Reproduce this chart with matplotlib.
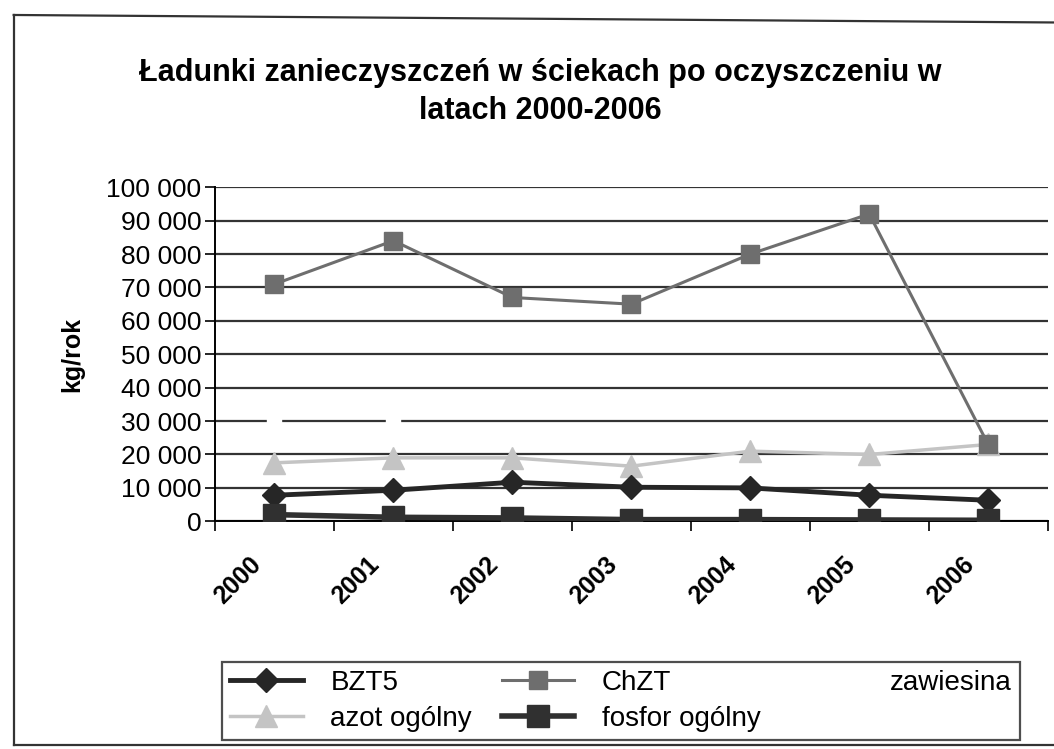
import matplotlib.pyplot as plt
import matplotlib.transforms as mtransforms
import numpy as np
from matplotlib.lines import Line2D

plt.rcParams['font.family'] = ['Liberation Sans', 'DejaVu Sans']

years = ['2000', '2001', '2002', '2003', '2004', '2005', '2006']
bzt5 = [7800, 9300, 11700, 10200, 10000, 7800, 6300]
chzt = [71000, 84000, 67000, 65000, 80000, 92000, 23000]
zawiesina = [30000, 30000, np.nan, np.nan, np.nan, np.nan, np.nan]
azot = [17500, 19000, 19000, 16500, 21000, 20000, 23000]
fosfor = [2000, 1200, 1000, 500, 500, 400, 300]

fig = plt.figure(figsize=(10.54, 7.49), dpi=100)
ax = fig.add_axes([0.204, 0.304, 0.79, 0.446])

x = np.arange(len(years))

# series on top of the grid
ax.plot(x, bzt5, color='#262626', marker='D', markersize=12, lw=3.5,
        label='BZT5', zorder=4)
ax.plot(x, azot, color='#c4c4c4', marker='^', markersize=16, lw=2.5,
        label='azot ogólny', zorder=3)
ax.plot(x, chzt, color='#6e6e6e', marker='s', markersize=13, lw=2.2,
        label='ChZT', zorder=3)
ax.plot(x, fosfor, color='#303030', marker='s', markersize=16, lw=4,
        label='fosfor ogólny', zorder=5)
ax.plot(x, zawiesina, color='white', marker='s', markersize=10, lw=0,
        label='zawiesina', zorder=2)

ax.set_xlim(-0.5, 6.5)
ax.set_ylim(0, 100000)
ax.set_yticks(np.arange(0, 100001, 10000))
ax.set_yticklabels([f'{v:,}'.replace(',', ' ') for v in range(0, 100001, 10000)],
                   fontsize=19)
ax.yaxis.grid(True, color='#333333', lw=1.6, zorder=0)
ax.set_axisbelow(True)

ax.set_xticks(x)
ax.set_xticklabels(years, rotation=45, fontsize=18, fontweight='bold',
                   ha='right', rotation_mode='anchor')
ax.set_xticks(np.arange(-0.5, 7, 1), minor=True)
ax.tick_params(axis='x', which='major', length=0, pad=22)
ax.tick_params(axis='x', which='minor', length=7, width=1.2, direction='out')
ax.tick_params(axis='y', length=7, width=1.2, direction='out', pad=3)

# nudge the rotated year labels a bit to the left
shift = mtransforms.ScaledTranslation(-0.26, 0, fig.dpi_scale_trans)
for lbl in ax.get_xticklabels():
    lbl.set_transform(lbl.get_transform() + shift)

for s in ['top', 'right']:
    ax.spines[s].set_visible(False)
ax.spines['left'].set_linewidth(1.4)
ax.spines['bottom'].set_linewidth(1.4)

ax.set_ylabel('kg/rok', fontsize=18, fontweight='bold', labelpad=16)

fig.text(0.513, 0.877, 'Ładunki zanieczyszczeń w ściekach po oczyszczeniu w\nlatach 2000-2006',
         ha='center', va='center', fontsize=22, fontweight='bold', linespacing=1.33)

leg = fig.legend(loc='lower left',
                 bbox_to_anchor=(222 / 1054, 1 - 740 / 749, 798 / 1054, 0.1),
                 mode='expand', ncol=3, fontsize=20, frameon=True,
                 fancybox=False, edgecolor='#222222', handlelength=2.6,
                 handletextpad=1.0, borderaxespad=0, labelspacing=0.35,
                 borderpad=0.3)
leg.get_frame().set_linewidth(1.6)

# outer chart frame (right edge runs off the scan)
frame_kw = dict(transform=fig.transFigure, color='#333333', lw=1.6)
fig.add_artist(Line2D([0.013, 0.013], [0.005, 0.98], **frame_kw))
fig.add_artist(Line2D([0.013, 1.0], [0.98, 0.97], **frame_kw))
fig.add_artist(Line2D([0.013, 1.0], [0.005, 0.005], **frame_kw))

plt.savefig('out.png', dpi=100)
